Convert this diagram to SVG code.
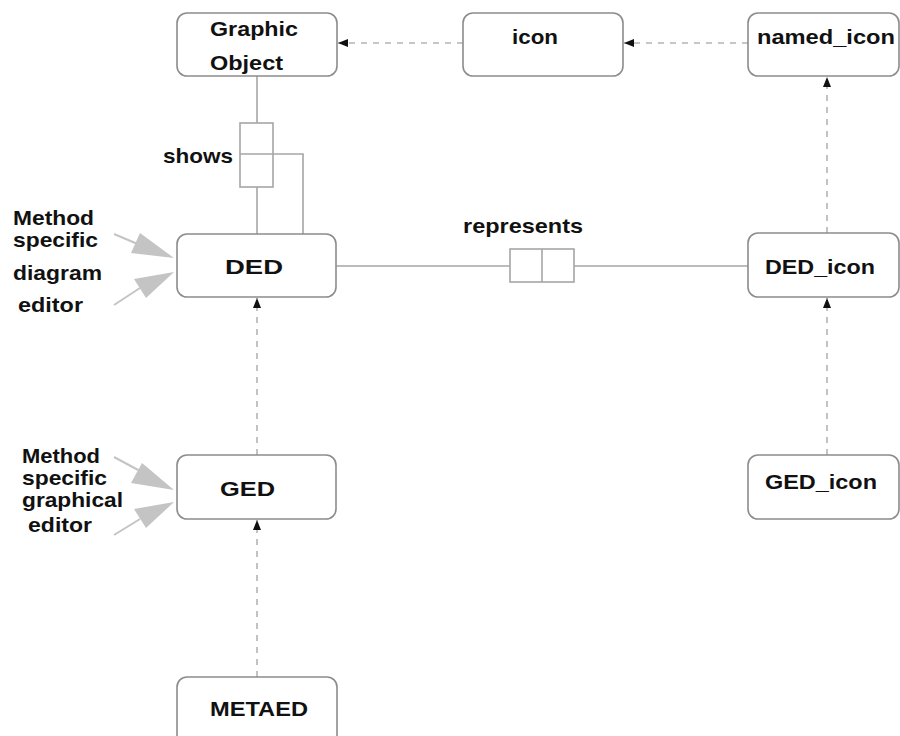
<svg xmlns="http://www.w3.org/2000/svg" width="900" height="736" viewBox="0 0 900 736">
  <style>
    .box { fill: #ffffff; stroke: #8c8c8c; stroke-width: 1.6; }
    .lbl { font-family: "Liberation Sans", Arial, sans-serif; font-weight: bold; font-size: 21px; fill: #111111; }
    .solid { fill: none; stroke: #a6a6a6; stroke-width: 1.6; }
    .dash { fill: none; stroke: #b4b4b4; stroke-width: 1.6; stroke-dasharray: 6 6; }
    .big { fill: #c4c4c4; stroke: none; }
    .shaft { stroke: #c4c4c4; stroke-width: 2; fill: none; }
  </style>
  <defs>
    <marker id="tip" viewBox="0 0 10 8" refX="10" refY="4" markerWidth="10" markerHeight="8" markerUnits="userSpaceOnUse" orient="auto">
      <path d="M0,0 L10,4 L0,8 Z" fill="#111111"/>
    </marker>
  </defs>
  <rect width="900" height="736" fill="#ffffff"/>

  <!-- connectors -->
  <g id="connectors">
    <!-- inheritance (dashed, arrow at parent) -->
    <line class="dash" x1="463" y1="43" x2="338" y2="43" marker-end="url(#tip)"/>
    <line class="dash" x1="748" y1="43" x2="624" y2="43" marker-end="url(#tip)"/>
    <line class="dash" x1="827" y1="233" x2="827" y2="77" marker-end="url(#tip)"/>
    <line class="dash" x1="827" y1="455" x2="827" y2="298" marker-end="url(#tip)"/>
    <line class="dash" x1="257" y1="455" x2="257" y2="298" marker-end="url(#tip)"/>
    <line class="dash" x1="257" y1="677" x2="257" y2="520" marker-end="url(#tip)"/>

    <!-- shows relationship -->
    <line class="solid" x1="257" y1="76" x2="257" y2="123"/>
    <rect class="solid" x="240" y="123" width="33" height="64"/>
    <line class="solid" x1="240" y1="154" x2="273" y2="154"/>
    <polyline class="solid" points="273,154 303,154 303,234"/>
    <line class="solid" x1="257" y1="187" x2="257" y2="234"/>

    <!-- represents relationship -->
    <line class="solid" x1="336" y1="266" x2="510" y2="266"/>
    <rect class="solid" x="510" y="249" width="64" height="33"/>
    <line class="solid" x1="542" y1="249" x2="542" y2="282"/>
    <line class="solid" x1="574" y1="266" x2="748" y2="266"/>

    <!-- external editor inputs -->
    <line class="shaft" x1="114" y1="234" x2="140" y2="245"/>
    <polygon class="big" points="174,258 131,253 140,233"/>
    <line class="shaft" x1="114" y1="305" x2="140" y2="288"/>
    <polygon class="big" points="174,272 146,298 134,279"/>

    <line class="shaft" x1="114" y1="457" x2="140" y2="471"/>
    <polygon class="big" points="174,490 131,483 142,463"/>
    <line class="shaft" x1="114" y1="535" x2="140" y2="519"/>
    <polygon class="big" points="174,502 146,528 134,509"/>
  </g>

  <g id="graphic-object">
    <rect class="box" x="177" y="13" width="160" height="63" rx="10"/>
    <text class="lbl" x="210" y="36" textLength="88" lengthAdjust="spacingAndGlyphs">Graphic</text>
    <text class="lbl" x="210" y="70" textLength="73" lengthAdjust="spacingAndGlyphs">Object</text>
  </g>
  <g id="icon">
    <rect class="box" x="463" y="13" width="160" height="63" rx="10"/>
    <text class="lbl" x="512" y="44" textLength="46" lengthAdjust="spacingAndGlyphs">icon</text>
  </g>
  <g id="named-icon">
    <rect class="box" x="748" y="13" width="151" height="63" rx="10"/>
    <text class="lbl" x="757" y="44" textLength="138" lengthAdjust="spacingAndGlyphs">named_icon</text>
  </g>
  <g id="shows-label">
    <text class="lbl" x="163" y="163" textLength="70" lengthAdjust="spacingAndGlyphs">shows</text>
  </g>
  <g id="ded">
    <rect class="box" x="177" y="234" width="159" height="63" rx="10"/>
    <text class="lbl" x="225" y="274" textLength="58" lengthAdjust="spacingAndGlyphs">DED</text>
  </g>
  <g id="represents-label">
    <text class="lbl" x="463" y="233" textLength="120" lengthAdjust="spacingAndGlyphs">represents</text>
  </g>
  <g id="ded-icon">
    <rect class="box" x="748" y="233" width="151" height="64" rx="10"/>
    <text class="lbl" x="765" y="274" textLength="110" lengthAdjust="spacingAndGlyphs">DED_icon</text>
  </g>
  <g id="diagram-editor-label">
    <text class="lbl" x="13" y="225" textLength="81" lengthAdjust="spacingAndGlyphs">Method</text>
    <text class="lbl" x="13" y="247" textLength="85" lengthAdjust="spacingAndGlyphs">specific</text>
    <text class="lbl" x="13" y="280" textLength="89" lengthAdjust="spacingAndGlyphs">diagram</text>
    <text class="lbl" x="18" y="312" textLength="65" lengthAdjust="spacingAndGlyphs">editor</text>
  </g>
  <g id="ged">
    <rect class="box" x="177" y="455" width="159" height="64" rx="10"/>
    <text class="lbl" x="220" y="496" textLength="55" lengthAdjust="spacingAndGlyphs">GED</text>
  </g>
  <g id="ged-icon">
    <rect class="box" x="748" y="455" width="151" height="64" rx="10"/>
    <text class="lbl" x="765" y="489" textLength="112" lengthAdjust="spacingAndGlyphs">GED_icon</text>
  </g>
  <g id="graphical-editor-label">
    <text class="lbl" x="22" y="463" textLength="78" lengthAdjust="spacingAndGlyphs">Method</text>
    <text class="lbl" x="22" y="485" textLength="85" lengthAdjust="spacingAndGlyphs">specific</text>
    <text class="lbl" x="22" y="507" textLength="101" lengthAdjust="spacingAndGlyphs">graphical</text>
    <text class="lbl" x="28" y="532" textLength="64" lengthAdjust="spacingAndGlyphs">editor</text>
  </g>
  <g id="metaed">
    <rect class="box" x="177" y="677" width="160" height="80" rx="10"/>
    <text class="lbl" x="210" y="716" textLength="98" lengthAdjust="spacingAndGlyphs">METAED</text>
  </g>
</svg>
